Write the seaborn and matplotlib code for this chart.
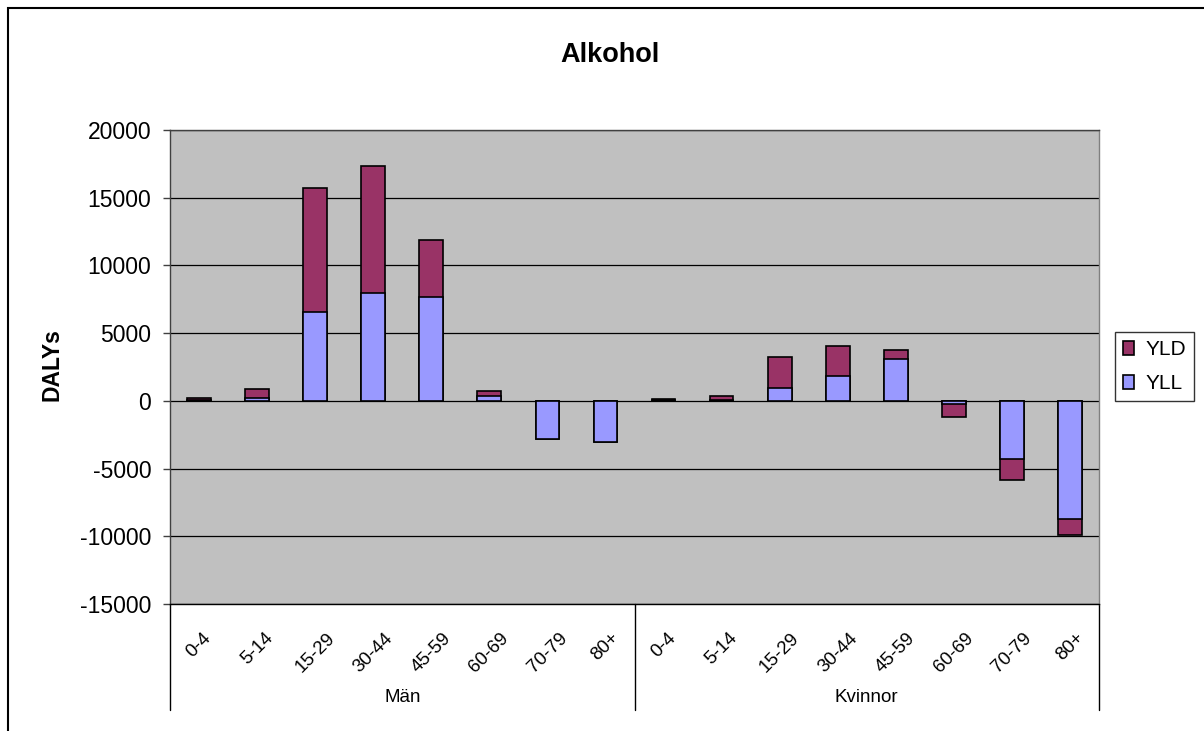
import matplotlib
matplotlib.use("Agg")
import matplotlib.pyplot as plt
from matplotlib.patches import Patch, Rectangle
import pandas as pd
import seaborn as sns

# Age groups and DALY components (YLL = years of life lost, YLD = years lived with disability)
ages = ["0-4", "5-14", "15-29", "30-44", "45-59", "60-69", "70-79", "80+"]
groups = ["Män", "Kvinnor"]
men_yll = [60, 200, 6540, 7940, 7690, 390, -2800, -3020]
men_yld = [150, 680, 9190, 9380, 4200, 370, 0, 0]
women_yll = [40, 60, 950, 1810, 3090, -200, -4260, -8720]
women_yld = [80, 280, 2260, 2260, 660, -1000, -1600, -1180]
yticks = [-15000, -10000, -5000, 0, 5000, 10000, 15000, 20000]

YLD_COLOR = "#993366"
YLL_COLOR = "#9999FF"
PLOT_BG = "#C0C0C0"

rows = []
for g, yll, yld in [(groups[0], men_yll, men_yld), (groups[1], women_yll, women_yld)]:
    for a, l, d in zip(ages, yll, yld):
        rows.append({"key": f"{g} {a}", "group": g, "age": a,
                     "YLL": l, "YLD": d, "total": l + d})
df = pd.DataFrame(rows)
order = list(df["key"])

sns.set_theme(style="white")
plt.rcParams["font.family"] = ["Liberation Sans", "DejaVu Sans"]
plt.rcParams.update({"text.color": "black", "axes.labelcolor": "black",
                     "xtick.color": "black", "ytick.color": "black"})

W, H = 1204, 731
fig = plt.figure(figsize=(W / 100, H / 100), dpi=100)
ax = fig.add_axes([170 / W, 1 - 604 / H, (1099 - 170) / W, (604 - 130) / H])
ax.set_facecolor(PLOT_BG)

bar_kw = dict(order=order, width=0.41, saturation=1, edgecolor="black",
              linewidth=1.2, ax=ax, errorbar=None, zorder=3)
# Full stack drawn in the YLD colour, then the YLL part over it from zero
sns.barplot(data=df, x="key", y="total", color=YLD_COLOR, **bar_kw)
sns.barplot(data=df, x="key", y="YLL", color=YLL_COLOR, **bar_kw)

ax.set_ylim(-15000, 20000)
ax.set_yticks(yticks)
ax.set_yticklabels([str(t) for t in yticks], fontsize=16.5)
ax.yaxis.grid(True, color="black", linewidth=0.9, zorder=1)
ax.xaxis.grid(False)
ax.set_axisbelow(True)
ax.tick_params(axis="y", direction="out", length=5, width=1, color="#404040",
               labelcolor="black", pad=8.5, left=True)

ax.set_xlim(-0.5, len(order) - 0.5)
ax.set_xticks(range(len(order)))
ax.set_xticklabels(list(df["age"]), rotation=45, ha="center", va="top",
                   fontsize=13.5)
ax.tick_params(axis="x", length=0, pad=18.5, labelcolor="black")
ax.set_xlabel("")
ax.set_ylabel("")

for side, col in [("left", "#404040"), ("right", "#808080"),
                  ("top", "#404040"), ("bottom", "black")]:
    ax.spines[side].set_visible(True)
    ax.spines[side].set_color(col)
    ax.spines[side].set_linewidth(1)

# Group separators and group names under the category labels
trans = ax.get_xaxis_transform()
depth = (710 - 604) / (604 - 130)
for xs in [-0.5, 7.5, 15.5]:
    ax.plot([xs, xs], [0, -depth], transform=trans, color="black",
            linewidth=1, clip_on=False)
label_y = -(697 - 604) / (604 - 130)
ax.text(3.5, label_y, groups[0], transform=trans, ha="center", va="center",
        fontsize=13.5, color="black")
ax.text(11.5, label_y, groups[1], transform=trans, ha="center", va="center",
        fontsize=13.5, color="black")

fig.text(52 / W, 1 - 365 / H, "DALYs", rotation=90, ha="center", va="center",
         fontsize=16.5, fontweight="bold", color="black")
fig.text(610 / W, 1 - 55 / H, "Alkohol", ha="center", va="center",
         fontsize=19.5, fontweight="bold", color="black")

handles = [Patch(facecolor=YLD_COLOR, edgecolor="black", linewidth=1.2),
           Patch(facecolor=YLL_COLOR, edgecolor="black", linewidth=1.2)]
leg = fig.legend(handles, ["YLD", "YLL"], loc="upper left",
                 bbox_to_anchor=(1115 / W, 1 - 332 / H), frameon=True,
                 fancybox=False, fontsize=15, handlelength=0.5,
                 handleheight=0.65, handletextpad=0.55, labelspacing=0.7,
                 borderpad=0.4, borderaxespad=0)
for t in leg.get_texts():
    t.set_color("black")
leg.get_frame().set_edgecolor("black")
leg.get_frame().set_linewidth(1)
leg.get_frame().set_facecolor("white")

# Chart-area border
fig.add_artist(Rectangle((8 / W, -0.1), 1.1, (1 - 8 / H) + 0.1,
                         transform=fig.transFigure, fill=False,
                         edgecolor="black", linewidth=1.5))

fig.savefig("out.png", dpi=100, facecolor="white")
